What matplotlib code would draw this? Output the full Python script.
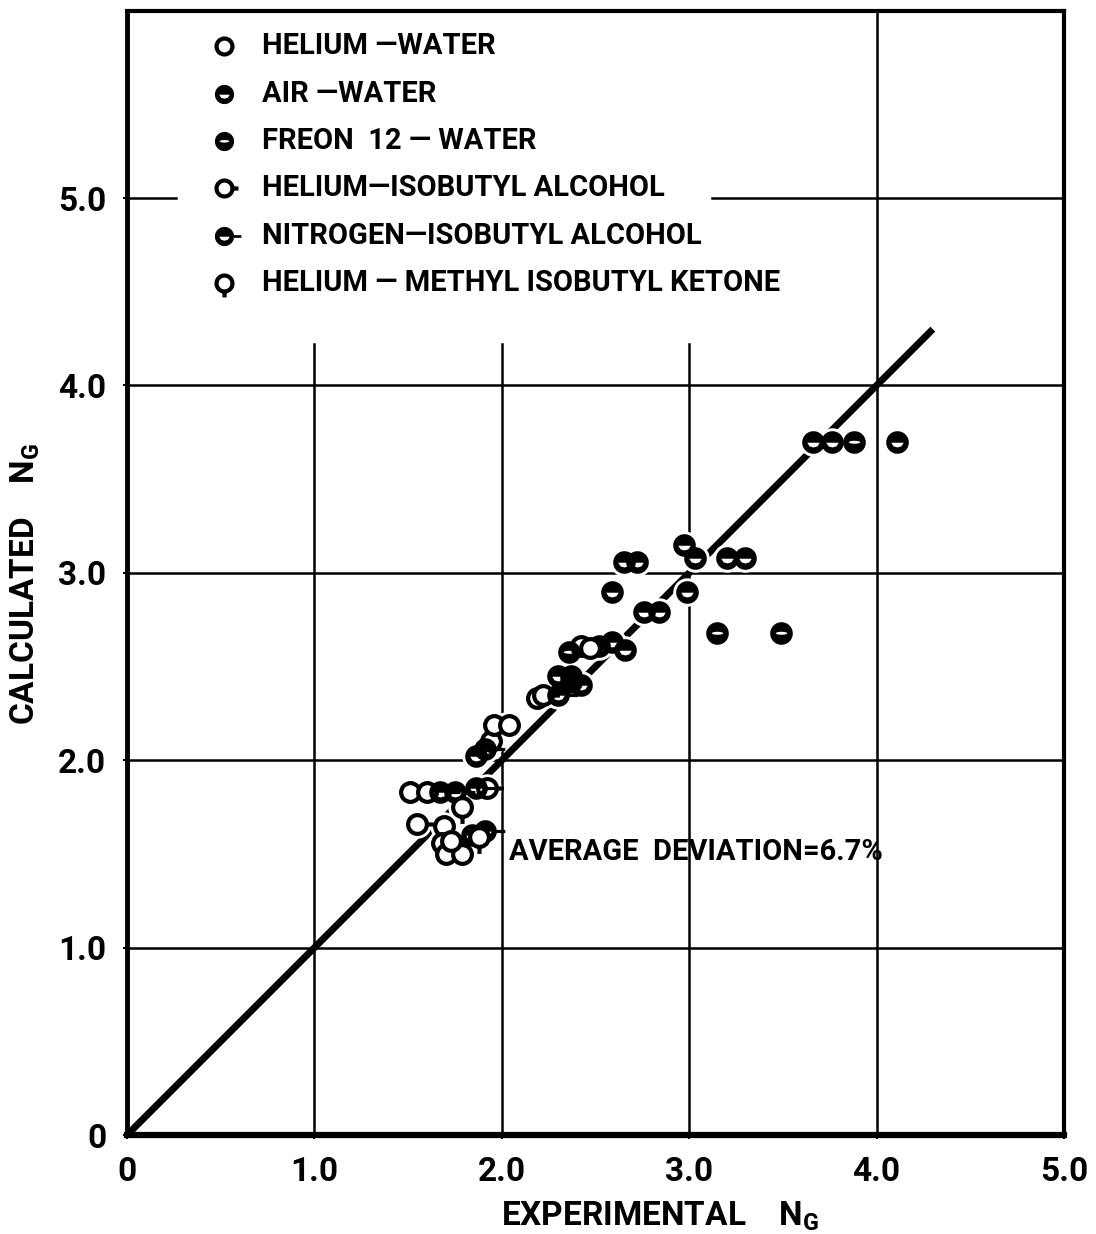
import numpy as np
import matplotlib.pyplot as plt
from matplotlib.path import Path

plt.rcParams['font.family'] = ['Roboto', 'DejaVu Sans']
plt.rcParams['font.weight'] = 'bold'
plt.rcParams['mathtext.fontset'] = 'custom'
plt.rcParams['mathtext.rm'] = 'Roboto:bold'

# experimental N_G (x) against calculated N_G (y) for each system
he_water_x = [1.51, 1.60, 1.69, 1.68, 1.70, 1.79, 1.94, 1.96, 2.04, 2.19, 2.42]
he_water_y = [1.83, 1.83, 1.65, 1.56, 1.50, 1.50, 2.10, 2.19, 2.19, 2.33, 2.61]

air_water_x = [1.86, 2.30, 2.37, 2.42, 2.52, 2.59, 2.66, 2.59, 2.65, 2.72, 2.76,
               2.84, 2.99, 2.97, 3.03, 3.20, 3.30, 3.66, 3.76, 4.11]
air_water_y = [2.02, 2.45, 2.45, 2.40, 2.61, 2.63, 2.59, 2.90, 3.06, 3.06, 2.79,
               2.79, 2.90, 3.15, 3.08, 3.08, 3.08, 3.70, 3.70, 3.70]

freon_x = [2.36, 3.15, 3.49, 3.88]
freon_y = [2.58, 2.68, 2.68, 3.70]

he_iba_x = [1.55, 1.73, 1.92, 2.22, 2.47]
he_iba_y = [1.66, 1.57, 1.85, 2.35, 2.60]

n2_iba_x = [1.67, 1.75, 1.86, 1.84, 1.91, 1.91, 2.30, 2.37]
n2_iba_y = [1.83, 1.83, 1.85, 1.60, 1.62, 2.06, 2.35, 2.42]

he_mibk_x = [1.79, 1.88]
he_mibk_y = [1.75, 1.59]

labels = ['HELIUM —WATER', 'AIR —WATER', 'FREON  12 — WATER',
          'HELIUM—ISOBUTYL ALCOHOL', 'NITROGEN—ISOBUTYL ALCOHOL',
          'HELIUM — METHYL ISOBUTYL KETONE']

# 45 degree line
line_x = [0.0, 4.3]
line_y = [0.0, 4.3]


def ring(cx, cy, rx, ry, ccw=True, n=40):
    t = np.linspace(0, 2 * np.pi, n)
    if not ccw:
        t = t[::-1]
    v = np.column_stack([cx + rx * np.cos(t), cy + ry * np.sin(t)])
    codes = [Path.MOVETO] + [Path.LINETO] * (n - 2) + [Path.CLOSEPOLY]
    return Path(v, codes)


def stub(x0, x1, y0, y1):
    # small filled bar used as the tail on some symbols
    v = [(x0, y0), (x1, y0), (x1, y1), (x0, y1), (x0, y0)]
    return Path(v, [Path.MOVETO] + [Path.LINETO] * 3 + [Path.CLOSEPOLY])


def tick(x0, y0, x1, y1):
    return Path([(x0, y0), (x1, y1)], [Path.MOVETO, Path.LINETO])


disc = ring(0, 0, 1, 1)
# white "smile" cut out of the lower half
smile_v = [(-0.55, -0.02), (-0.35, -0.34), (0.0, -0.44), (0.35, -0.34), (0.55, -0.02), (-0.55, -0.02)]
smile = Path(smile_v[::-1], [Path.MOVETO] + [Path.LINETO] * 4 + [Path.CLOSEPOLY])
bar = ring(0, 0.02, 0.5, 0.13, ccw=False)

m_air = Path.make_compound_path(disc, smile)
m_freon = Path.make_compound_path(disc, bar)
m_he_iba = Path.make_compound_path(disc, tick(1.0, 0, 1.75, 0))
m_n2_iba = Path.make_compound_path(disc, smile, stub(0.9, 1.75, -0.14, 0.14))
m_mibk = Path.make_compound_path(disc, tick(0, -1.0, 0, -1.75))

ms = 13.5
fs = ms + 2.8
series = [
    (he_water_x, he_water_y, dict(marker='o', ms=ms, mfc='white', mew=3.0)),
    (air_water_x, air_water_y, dict(marker=m_air, ms=fs, mfc='black', mew=0)),
    (freon_x, freon_y, dict(marker=m_freon, ms=fs, mfc='black', mew=0)),
    (he_iba_x, he_iba_y, dict(marker=m_he_iba, ms=ms * 1.75, mfc='white', mew=3.0)),
    (n2_iba_x, n2_iba_y, dict(marker=m_n2_iba, ms=fs * 1.75, mfc='black', mew=0)),
    (he_mibk_x, he_mibk_y, dict(marker=m_mibk, ms=ms * 1.75, mfc='white', mew=3.0)),
]

fig = plt.figure(figsize=(10.96, 12.34), dpi=100)
ax = fig.add_axes([0.1159, 0.0802, 0.8549, 0.9112])
ax.set_xlim(0, 5.0)
ax.set_ylim(0, 6.0)

# grid, left open where the key sits
gkw = dict(color='black', lw=1.8, zorder=1)
for gx in [1.0, 2.0, 3.0]:
    ax.plot([gx, gx], [0, 4.22], **gkw)
ax.plot([4.0, 4.0], [0, 6.0], **gkw)
for gy in [1.0, 2.0, 3.0, 4.0]:
    ax.plot([0, 5.0], [gy, gy], **gkw)
ax.plot([0, 0.26], [5.0, 5.0], **gkw)
ax.plot([3.12, 5.0], [5.0, 5.0], **gkw)

ax.plot(line_x, line_y, color='black', lw=5.0, solid_capstyle='butt', zorder=2)

# white halo under every point breaks the lines around it
all_x = sum([s[0] for s in series], [])
all_y = sum([s[1] for s in series], [])
ax.plot(all_x, all_y, 'o', ms=20.5, color='white', mew=0, zorder=3, linestyle='none')

for xs, ys, kw in series:
    ax.plot(xs, ys, linestyle='none', color='black', mec='black', zorder=4, **kw)

# key
for i, ((xs, ys, kw), lab) in enumerate(zip(series, labels)):
    ky = 5.81 - i * 0.253
    kkw = dict(kw)
    kkw['ms'] = kw['ms'] * 0.85
    ax.plot([0.52], [ky], linestyle='none', color='black', mec='black', zorder=4, **kkw)
    ax.text(0.72, ky, lab, fontsize=21, fontweight='bold', va='center', ha='left')

ax.text(2.04, 1.51, 'AVERAGE  DEVIATION=6.7%', fontsize=21, fontweight='bold',
        va='center', ha='left')

for side, w in [('left', 3.5), ('bottom', 4.5), ('right', 3.0), ('top', 3.0)]:
    ax.spines[side].set_linewidth(w)

ax.set_xticks([0, 1, 2, 3, 4, 5])
ax.set_xticklabels(['0', '1.0', '2.0', '3.0', '4.0', '5.0'])
ax.set_yticks([0, 1, 2, 3, 4, 5])
ax.set_yticklabels(['0', '1.0', '2.0', '3.0', '4.0', '5.0'])
ax.tick_params(axis='both', labelsize=24, length=3, width=1.5, direction='out')
ax.tick_params(axis='x', pad=12)
ax.tick_params(axis='y', pad=12)

ax.set_xlabel(r'EXPERIMENTAL    N$_{\rm G}$', fontsize=24, fontweight='bold')
ax.set_ylabel(r'CALCULATED    N$_{\rm G}$', fontsize=24, fontweight='bold')
ax.xaxis.set_label_coords(0.569, -0.057)
ax.yaxis.set_label_coords(-0.091, 0.49)

fig.savefig('out.png', dpi=100)
